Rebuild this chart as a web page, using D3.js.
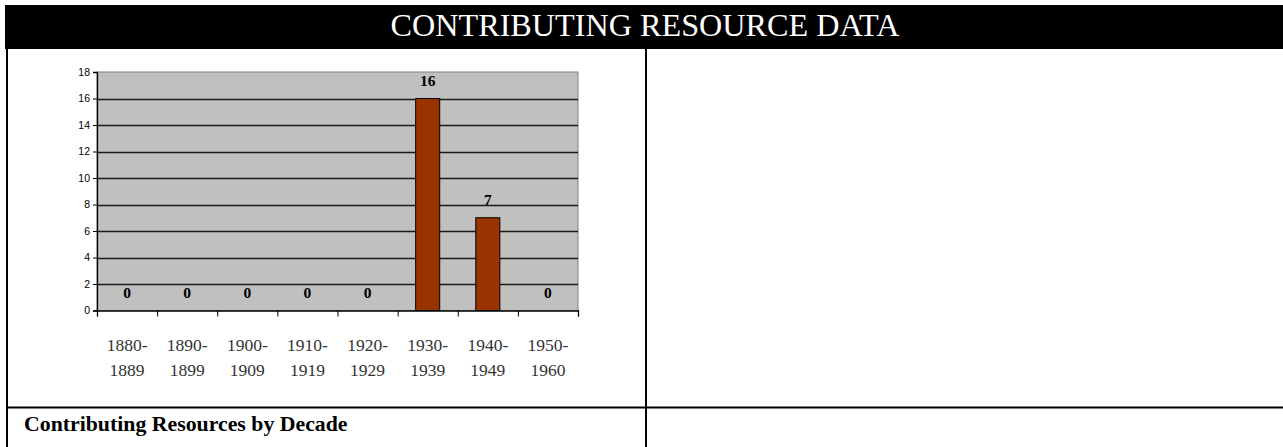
<!DOCTYPE html>
<html>
<head>
<meta charset="utf-8">
<script src="https://cdn.jsdelivr.net/npm/d3@7"></script>
<style>
  html, body { margin: 0; padding: 0; background: #fff; }
  svg { display: block; }
</style>
</head>
<body>
<svg id="chart" width="1283" height="447"></svg>
<script>
// ---- data ----
const categoriesTop = ["1880-", "1890-", "1900-", "1910-", "1920-", "1930-", "1940-", "1950-"];
const categoriesBottom = ["1889", "1899", "1909", "1919", "1929", "1939", "1949", "1960"];
const values = [0, 0, 0, 0, 0, 16, 7, 0];
const yTicks = [0, 2, 4, 6, 8, 10, 12, 14, 16, 18];
const headerTitle = "CONTRIBUTING RESOURCE DATA";
const captionTitle = "Contributing Resources by Decade";

(function () {
const categories = categoriesTop.map((t, i) => t + categoriesBottom[i]);

const svg = d3.select("#chart");
const serif = "'Liberation Serif', 'Times New Roman', serif";
const sans = "'Liberation Sans', Arial, sans-serif";

// ---- table frame ----
svg.append("rect").attr("x", 5).attr("y", 5).attr("width", 1278).attr("height", 44).attr("fill", "#000");
svg.append("text").attr("x", 645).attr("y", 35.5).attr("text-anchor", "middle")
  .attr("fill", "#fff").attr("font-family", serif).attr("font-size", 32.2).text(headerTitle);

svg.append("line").attr("x1", 7).attr("x2", 7).attr("y1", 49).attr("y2", 447).attr("stroke", "#000").attr("stroke-width", 2);
svg.append("line").attr("x1", 646).attr("x2", 646).attr("y1", 49).attr("y2", 447).attr("stroke", "#000").attr("stroke-width", 2);
svg.append("line").attr("x1", 6).attr("x2", 1283).attr("y1", 407.5).attr("y2", 407.5).attr("stroke", "#000").attr("stroke-width", 2);

svg.append("text").attr("x", 24).attr("y", 431).attr("fill", "#000")
  .attr("font-family", serif).attr("font-weight", "bold").attr("font-size", 21.8).text(captionTitle);

// ---- chart ----
const pL = 97, pR = 578, pT = 72, pB = 310.5;
const x = d3.scaleBand().domain(categories).range([pL, pR]).padding(0);
const xBar = d3.scaleBand().domain(categories).range([pL, pR]).paddingInner(0.6).paddingOuter(0.3);
const y = d3.scaleLinear().domain([0, 18]).range([pB, pT]);

svg.append("rect").attr("x", pL).attr("y", pT).attr("width", pR - pL).attr("height", pB - pT)
  .attr("fill", "#c0c0c0").attr("stroke", "#808080").attr("stroke-width", 1);

// gridlines
svg.append("g").selectAll("line").data(yTicks.filter(t => t > 0 && t < 18)).join("line")
  .attr("x1", pL).attr("x2", pR)
  .attr("y1", d => Math.round(y(d)) + 0.5).attr("y2", d => Math.round(y(d)) + 0.5)
  .attr("stroke", "#1a1a1a").attr("stroke-width", 1.3);

// bars
svg.append("g").selectAll("rect").data(values).join("rect")
  .attr("x", (d, i) => xBar(categories[i]))
  .attr("width", xBar.bandwidth())
  .attr("y", d => y(d))
  .attr("height", d => y(0) - y(d))
  .attr("fill", "#993300").attr("stroke", "#000").attr("stroke-width", 1);

// value labels
svg.append("g").selectAll("text").data(values).join("text")
  .attr("x", (d, i) => x(categories[i]) + x.bandwidth() / 2)
  .attr("y", d => y(d) - 12.5)
  .attr("text-anchor", "middle").attr("font-family", serif).attr("font-weight", "bold")
  .attr("font-size", 15.5).attr("fill", "#000").text(d => d);

// y axis
const yAxis = svg.append("g").attr("transform", `translate(${pL},0)`)
  .call(d3.axisLeft(y).tickValues(yTicks).tickSize(4).tickPadding(3).tickFormat(d3.format("d")));
yAxis.attr("font-size", null).attr("font-family", null);
yAxis.selectAll("text").style("font-family", sans).style("font-size", "10.5px").attr("fill", "#000");
yAxis.selectAll("line").attr("stroke", "#000");
yAxis.select(".domain").attr("stroke", "#000").attr("stroke-width", 1.3);

// x axis (ticks at category boundaries)
const boundaries = categories.map(c => x(c)).concat([pR]);
const xb = d3.scaleLinear().domain([pL, pR]).range([pL, pR]);
const xAxis = svg.append("g").attr("transform", `translate(0,${pB})`)
  .call(d3.axisBottom(xb).tickValues(boundaries).tickSize(6).tickFormat(""));
xAxis.selectAll("line").attr("stroke", "#000");
xAxis.select(".domain").attr("stroke", "#000").attr("stroke-width", 1.3);

// category labels (two lines)
const lab = svg.append("g").selectAll("text").data(categories).join("text")
  .attr("text-anchor", "middle").attr("font-family", serif).attr("font-size", 17.5).attr("fill", "#333");
lab.append("tspan").attr("x", d => x(d) + x.bandwidth() / 2).attr("y", 351).text((d, i) => categoriesTop[i]);
lab.append("tspan").attr("x", d => x(d) + x.bandwidth() / 2).attr("y", 376).text((d, i) => categoriesBottom[i]);
})();
</script>
</body>
</html>
